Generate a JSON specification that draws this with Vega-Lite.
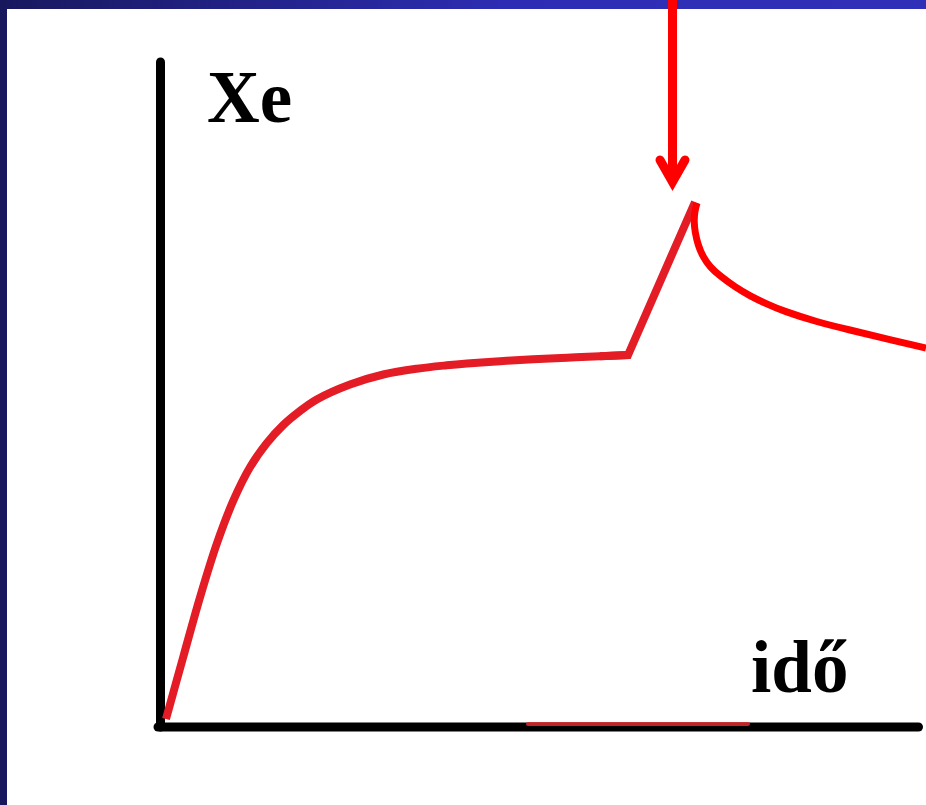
{
  "$schema": "https://vega.github.io/schema/vega-lite/v6.json",
  "width": 926,
  "height": 805,
  "padding": 0,
  "autosize": "none",
  "background": "#ffffff",
  "config": {"view": {"stroke": null}},
  "layer": [
    {
      "data": {"values": [{"t1": -160, "t2": 766, "v1": 727, "v2": 718}]},
      "mark": {"type": "rect", "color": {"gradient": "linear", "x1": 0, "x2": 1, "y1": 0, "y2": 0, "stops": [{"offset": 0, "color": "#18185e"}, {"offset": 0.55, "color": "#2d2db4"}, {"offset": 1, "color": "#2f2fb8"}]}},
      "encoding": {
        "x": {"field": "t1", "type": "quantitative", "scale": {"domain": [-160, 766], "nice": false, "zero": false}, "axis": null},
        "x2": {"field": "t2"},
        "y": {"field": "v1", "type": "quantitative", "scale": {"domain": [-78, 727], "nice": false, "zero": false}, "axis": null},
        "y2": {"field": "v2"}
      }
    },
    {
      "data": {"values": [{"t1": -160, "t2": -153, "v1": 727, "v2": -78}]},
      "mark": {"type": "rect", "color": "#17175d"},
      "encoding": {
        "x": {"field": "t1", "type": "quantitative", "scale": {"domain": [-160, 766], "nice": false, "zero": false}, "axis": null},
        "x2": {"field": "t2"},
        "y": {"field": "v1", "type": "quantitative", "scale": {"domain": [-78, 727], "nice": false, "zero": false}, "axis": null},
        "y2": {"field": "v2"}
      }
    },
    {
      "data": {"values": [
        {"seg": "y", "ord": 0, "t": 0.5, "xe": 665},
        {"seg": "y", "ord": 1, "t": 0.5, "xe": 0},
        {"seg": "x", "ord": 0, "t": -2, "xe": 0},
        {"seg": "x", "ord": 1, "t": 758.5, "xe": 0}
      ]},
      "mark": {"type": "line", "color": "#000000", "strokeWidth": 9, "strokeCap": "round", "strokeJoin": "round"},
      "encoding": {
        "x": {"field": "t", "type": "quantitative", "scale": {"domain": [-160, 766], "nice": false, "zero": false}, "axis": null},
        "y": {"field": "xe", "type": "quantitative", "scale": {"domain": [-78, 727], "nice": false, "zero": false}, "axis": null},
        "detail": {"field": "seg"},
        "order": {"field": "ord"}
      }
    },
    {
      "data": {"values": [
        {"ord": 0, "t": 368, "xe": 3},
        {"ord": 1, "t": 588, "xe": 3}
      ]},
      "mark": {"type": "line", "color": "#d02a2e", "strokeWidth": 4, "strokeCap": "round", "opacity": 0.9},
      "encoding": {
        "x": {"field": "t", "type": "quantitative", "scale": {"domain": [-160, 766], "nice": false, "zero": false}, "axis": null},
        "y": {"field": "xe", "type": "quantitative", "scale": {"domain": [-78, 727], "nice": false, "zero": false}, "axis": null},
        "order": {"field": "ord"}
      }
    },
    {
      "data": {"values": [
        {"ord": 0, "t": 6, "xe": 8},
        {"ord": 1, "t": 23.3, "xe": 70.3},
        {"ord": 2, "t": 40, "xe": 129.7},
        {"ord": 3, "t": 56.7, "xe": 183},
        {"ord": 4, "t": 73.3, "xe": 226.3},
        {"ord": 5, "t": 90, "xe": 259.7},
        {"ord": 6, "t": 106.7, "xe": 283.7},
        {"ord": 7, "t": 123.3, "xe": 302},
        {"ord": 8, "t": 140, "xe": 316},
        {"ord": 9, "t": 156.7, "xe": 327.5},
        {"ord": 10, "t": 190, "xe": 342.5},
        {"ord": 11, "t": 223.3, "xe": 352.5},
        {"ord": 12, "t": 256.7, "xe": 358.3},
        {"ord": 13, "t": 286.7, "xe": 361.7},
        {"ord": 14, "t": 307, "xe": 363.5},
        {"ord": 15, "t": 340, "xe": 365.8},
        {"ord": 16, "t": 373, "xe": 367.7},
        {"ord": 17, "t": 407, "xe": 369.3},
        {"ord": 18, "t": 440, "xe": 370.8},
        {"ord": 19, "t": 468, "xe": 372}
      ]},
      "mark": {"type": "line", "color": "#e31c25", "strokeWidth": 8, "strokeCap": "butt", "strokeJoin": "round", "interpolate": "catmull-rom"},
      "encoding": {
        "x": {"field": "t", "type": "quantitative", "scale": {"domain": [-160, 766], "nice": false, "zero": false}, "axis": null},
        "y": {"field": "xe", "type": "quantitative", "scale": {"domain": [-78, 727], "nice": false, "zero": false}, "axis": null},
        "order": {"field": "ord"}
      }
    },
    {
      "data": {"values": [
        {"ord": 0, "t": 440, "xe": 370.8},
        {"ord": 1, "t": 468, "xe": 372},
        {"ord": 2, "t": 535, "xe": 525}
      ]},
      "mark": {"type": "line", "color": "#e31c25", "strokeWidth": 8, "strokeCap": "butt", "strokeJoin": "miter", "strokeMiterLimit": 10},
      "encoding": {
        "x": {"field": "t", "type": "quantitative", "scale": {"domain": [-160, 766], "nice": false, "zero": false}, "axis": null},
        "y": {"field": "xe", "type": "quantitative", "scale": {"domain": [-78, 727], "nice": false, "zero": false}, "axis": null},
        "order": {"field": "ord"}
      }
    },
    {
      "data": {"values": [
        {"ord": 0, "t": 537, "xe": 524},
        {"ord": 1, "t": 534.5, "xe": 515},
        {"ord": 2, "t": 534, "xe": 505},
        {"ord": 3, "t": 535, "xe": 495},
        {"ord": 4, "t": 538, "xe": 482},
        {"ord": 5, "t": 543, "xe": 470},
        {"ord": 6, "t": 550, "xe": 460},
        {"ord": 7, "t": 560, "xe": 451},
        {"ord": 8, "t": 575, "xe": 440},
        {"ord": 9, "t": 590, "xe": 431},
        {"ord": 10, "t": 607, "xe": 423},
        {"ord": 11, "t": 623, "xe": 416},
        {"ord": 12, "t": 657, "xe": 405},
        {"ord": 13, "t": 690, "xe": 397},
        {"ord": 14, "t": 723, "xe": 389},
        {"ord": 15, "t": 766, "xe": 379}
      ]},
      "mark": {"type": "line", "color": "#ff0000", "strokeWidth": 7, "strokeCap": "butt", "strokeJoin": "round", "interpolate": "basis"},
      "encoding": {
        "x": {"field": "t", "type": "quantitative", "scale": {"domain": [-160, 766], "nice": false, "zero": false}, "axis": null},
        "y": {"field": "xe", "type": "quantitative", "scale": {"domain": [-78, 727], "nice": false, "zero": false}, "axis": null},
        "order": {"field": "ord"}
      }
    },
    {
      "data": {"values": [
        {"seg": "shaft", "ord": 0, "t": 512.5, "xe": 727},
        {"seg": "shaft", "ord": 1, "t": 512.5, "xe": 548},
        {"seg": "head", "ord": 0, "t": 500, "xe": 567},
        {"seg": "head", "ord": 1, "t": 512.5, "xe": 545},
        {"seg": "head", "ord": 2, "t": 525, "xe": 567}
      ]},
      "mark": {"type": "line", "color": "#ff0000", "strokeWidth": 9, "strokeCap": "round", "strokeJoin": "miter", "strokeMiterLimit": 10},
      "encoding": {
        "x": {"field": "t", "type": "quantitative", "scale": {"domain": [-160, 766], "nice": false, "zero": false}, "axis": null},
        "y": {"field": "xe", "type": "quantitative", "scale": {"domain": [-78, 727], "nice": false, "zero": false}, "axis": null},
        "detail": {"field": "seg"},
        "order": {"field": "ord"}
      }
    },
    {
      "data": {"values": [
        {"label": "Xe", "t": 47, "xe": 605},
        {"label": "idő", "t": 591, "xe": 35}
      ]},
      "mark": {"type": "text", "font": "Liberation Serif", "fontWeight": "bold", "fontSize": 73, "align": "left", "baseline": "alphabetic", "color": "#000000"},
      "encoding": {
        "x": {"field": "t", "type": "quantitative", "scale": {"domain": [-160, 766], "nice": false, "zero": false}, "axis": null},
        "y": {"field": "xe", "type": "quantitative", "scale": {"domain": [-78, 727], "nice": false, "zero": false}, "axis": null},
        "text": {"field": "label"}
      }
    }
  ]
}
